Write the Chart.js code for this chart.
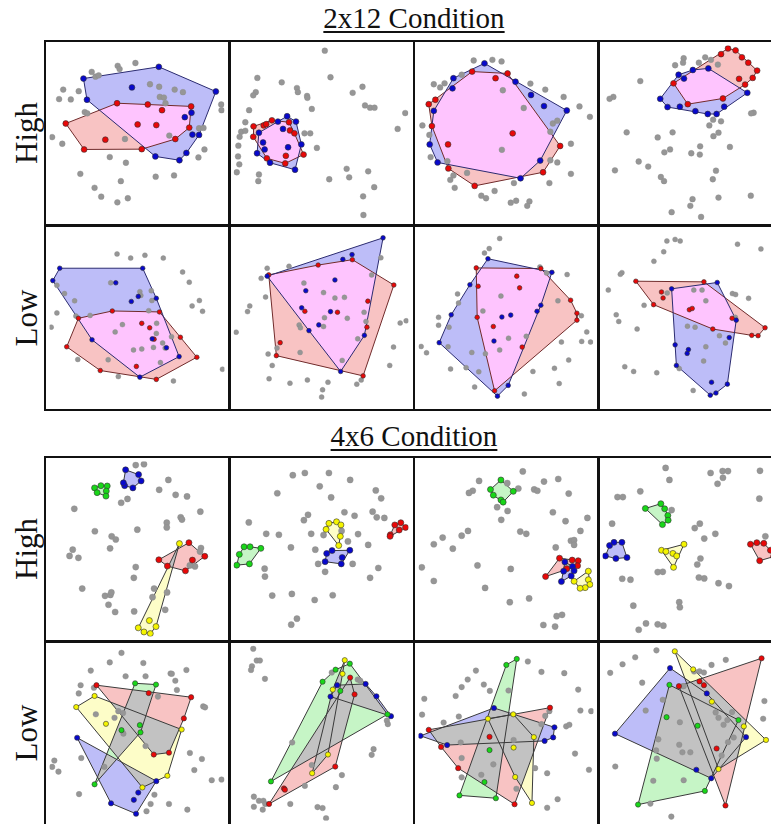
<!DOCTYPE html>
<html>
<head>
<meta charset="utf-8">
<script src="https://cdn.jsdelivr.net/npm/chart.js@4.4.0/dist/chart.umd.min.js"></script>
<style>
  body { margin: 0; background: #fff; width: 771px; height: 824px; overflow: hidden; position: relative; font-family: "Liberation Serif", "DejaVu Serif", serif; }
  .titel { position: absolute; left: 0; width: 828px; text-align: center; font-size: 29px; color: #111; }
  .titel span { text-decoration: underline; text-underline-offset: 3px; text-decoration-thickness: 1.5px; }
  .zeile { position: absolute; font-size: 31px; color: #111; transform: translate(-50%, -50%) rotate(-90deg); white-space: nowrap; }
  .zelle { position: absolute; }
  .rahmen { position: absolute; border: 2px solid #111; box-sizing: border-box; pointer-events: none; }
</style>
</head>
<body>
<div class="titel" style="top:2px"><span>2x12 Condition</span></div>
<div class="titel" style="top:420px"><span>4x6 Condition</span></div>
<div class="zeile" style="left:27px; top:133px">High</div>
<div class="zeile" style="left:27px; top:318px">Low</div>
<div class="zeile" style="left:27px; top:549px">High</div>
<div class="zeile" style="left:27px; top:733px">Low</div>
<script>
// panel coordinates: 0..552 on both axes, y counted from the top

// 2x12 High
const A_gray = [[215,64],[221,74],[271,55],[133,83],[145,98],[155,94],[43,139],[92,144],[30,169],[67,170],[317,122],[346,130],[395,139],[421,147],[348,162],[361,164],[366,182],[542,186],[543,204],[111,210],[119,214],[8,289],[40,310],[238,295],[378,284],[472,261],[486,260],[489,328],[470,353],[190,352],[241,370],[97,405],[225,428],[335,414],[393,410],[142,449],[163,477],[214,495],[247,482]];
const A_blue = [[107,104],[345,67],[525,145],[260,132],[118,171],[427,226],[448,212],[451,281],[472,282],[432,339],[410,362],[334,350]];
const A_red = [[51,246],[213,182],[310,186],[447,192],[355,204],[278,249],[337,251],[441,259],[397,295],[176,297],[109,328],[291,327]];

const B_gray = [[288,16],[75,102],[152,116],[306,100],[200,134],[203,147],[232,159],[233,165],[70,147],[62,157],[247,200],[49,204],[376,149],[407,130],[415,189],[431,196],[445,196],[542,213],[518,263],[37,242],[24,272],[37,269],[19,288],[15,316],[14,350],[18,375],[10,400],[80,407],[78,428],[224,277],[242,277],[263,323],[302,422],[357,389],[365,416],[425,397],[444,447],[409,476],[410,535]];
const B_blue = [[169,223],[197,240],[140,240],[80,275],[93,306],[98,328],[74,340],[115,370],[194,392],[214,312],[156,263],[172,321]];
const B_red = [[63,255],[95,252],[103,248],[121,236],[175,242],[178,268],[192,277],[221,344],[163,372],[105,356],[62,288],[165,348]];

const C_gray = [[174,47],[233,45],[262,50],[136,92],[48,122],[68,132],[82,119],[353,120],[400,139],[458,162],[508,192],[541,225],[266,141],[332,197],[424,246],[438,237],[416,272],[12,252],[34,282],[38,352],[481,310],[263,329],[91,365],[416,362],[438,369],[153,402],[110,410],[100,424],[114,449],[481,405],[413,434],[301,434],[240,459],[198,474],[213,482],[291,496],[308,490],[350,492],[343,506]];
const C_blue = [[208,56],[110,103],[107,135],[306,114],[355,156],[396,191],[468,205],[48,206],[35,312],[60,369],[384,363],[322,419]];
const C_red = [[169,82],[281,88],[243,103],[32,185],[53,171],[42,254],[297,277],[93,312],[94,388],[177,443],[393,400],[447,317]];

const D_gray = [[256,40],[254,54],[229,62],[304,54],[324,37],[342,45],[364,60],[119,112],[34,162],[22,168],[477,212],[469,214],[349,234],[374,239],[337,252],[350,286],[366,275],[402,320],[76,274],[174,290],[221,274],[195,337],[213,328],[280,340],[307,344],[308,318],[114,366],[144,382],[39,394],[184,415],[194,428],[358,395],[348,422],[284,485],[277,506],[366,480],[468,474],[218,526],[311,541]];
const D_blue = [[240,92],[257,104],[285,77],[334,72],[182,168],[205,194],[244,193],[293,207],[332,216],[360,216],[384,193],[457,149]];
const D_red = [[374,27],[396,9],[420,15],[440,37],[460,54],[488,79],[474,102],[450,123],[431,105],[380,167],[269,185],[224,119]];

// 2x12 Low
const E_gray = [[213,77],[256,90],[301,81],[359,90],[420,134],[441,166],[23,176],[47,202],[79,225],[193,168],[285,196],[288,208],[321,193],[323,224],[473,224],[450,241],[483,258],[23,263],[5,308],[83,273],[128,271],[313,256],[230,300],[338,296],[207,323],[337,328],[385,338],[357,358],[365,374],[328,372],[265,380],[291,377],[89,410],[185,411],[350,420],[217,464],[391,478],[546,441]];
const E_blue = [[32,122],[294,122],[10,161],[209,168],[258,227],[280,211],[337,217],[369,373],[324,345],[134,348],[285,466],[409,401]];
const E_red = [[91,280],[198,257],[347,260],[291,296],[316,310],[330,346],[413,340],[465,403],[337,473],[160,445],[54,370],[274,432]];

const F_gray = [[106,122],[87,154],[175,116],[465,89],[436,143],[101,213],[51,241],[44,259],[222,169],[284,199],[320,216],[350,214],[287,278],[359,280],[412,261],[418,290],[207,301],[211,310],[284,306],[392,345],[8,324],[526,295],[545,288],[505,371],[493,429],[137,374],[109,393],[210,388],[122,429],[343,413],[112,471],[178,485],[233,475],[298,482],[281,506],[278,529],[389,488],[403,475]];
const F_blue = [[472,26],[345,94],[374,79],[106,147],[320,159],[228,193],[215,247],[306,259],[269,301],[238,319],[413,334],[338,448]];
const F_red = [[111,143],[267,112],[375,95],[506,175],[424,226],[225,258],[328,261],[421,308],[147,357],[135,398],[409,462]];

const G_gray = [[256,28],[223,60],[208,74],[383,118],[404,137],[469,142],[123,203],[126,232],[260,210],[63,277],[63,302],[96,308],[203,257],[440,225],[514,272],[531,323],[451,355],[515,353],[543,355],[340,337],[284,343],[256,380],[211,392],[168,388],[93,370],[8,369],[25,389],[150,436],[190,449],[101,440],[361,448],[429,438],[474,412],[177,497],[334,519],[444,486]];
const G_blue = [[219,92],[421,135],[162,174],[103,269],[65,357],[386,239],[374,258],[263,276],[291,270],[238,352],[283,492],[249,526]];
const G_red = [[182,121],[386,123],[310,147],[319,184],[188,179],[185,277],[236,306],[480,223],[500,264],[500,286],[327,371],[240,509]];

const H_gray = [[203,36],[229,31],[245,36],[193,70],[162,100],[426,46],[500,61],[61,136],[56,141],[18,191],[131,239],[204,200],[288,191],[314,191],[326,225],[410,202],[420,205],[461,217],[43,269],[51,290],[109,314],[268,305],[292,308],[369,335],[388,358],[326,370],[419,277],[319,415],[70,433],[98,448],[171,452],[242,439],[286,508]];
const H_blue = [[218,187],[362,167],[422,286],[400,341],[394,488],[358,516],[340,523],[344,482],[233,429],[229,364],[271,379],[267,391]];
const H_red = [[105,163],[320,165],[186,197],[191,216],[161,237],[274,253],[283,249],[409,280],[513,310],[491,335],[471,334],[348,314]];

// 4x6 High
const I_gray = [[272,11],[298,8],[375,58],[346,89],[398,105],[434,110],[226,130],[246,118],[78,149],[476,158],[414,176],[418,183],[370,193],[370,208],[277,215],[143,220],[196,236],[209,246],[191,274],[73,278],[63,298],[91,304],[478,273],[475,284],[459,331],[443,328],[272,333],[266,367],[103,401],[175,424],[192,421],[195,413],[186,452],[207,475],[267,473],[330,401],[371,413],[325,428],[365,468]];
const I_green = [[142,83],[162,76],[182,77],[179,93],[178,109],[150,98]];
const I_blue = [[240,26],[281,41],[289,61],[263,83],[237,76],[233,67]];
const I_red = [[440,256],[490,299],[451,311],[429,345],[345,310],[372,330]];
const I_yellow = [[410,259],[280,525],[298,538],[318,543],[336,521],[315,502]];

const J_gray = [[187,43],[225,36],[301,36],[368,58],[272,78],[138,100],[308,113],[449,91],[466,116],[350,160],[382,171],[439,158],[452,176],[476,178],[235,168],[222,185],[48,192],[103,228],[143,231],[245,228],[284,232],[341,219],[361,252],[393,229],[425,263],[181,271],[258,278],[267,323],[289,348],[376,323],[457,336],[431,367],[98,338],[99,363],[122,423],[184,418],[256,437],[313,422],[182,515],[200,496]];
const J_green = [[33,269],[52,269],[86,274],[18,293],[10,327],[50,323]];
const J_blue = [[294,290],[311,281],[367,280],[343,303],[340,323],[289,316]];
const J_red = [[509,200],[528,193],[543,208],[523,216],[495,231],[494,236]];
const J_yellow = [[301,195],[325,190],[339,200],[292,214],[337,236],[332,265]];

const K_gray = [[329,31],[191,61],[171,92],[159,99],[280,68],[315,85],[365,88],[375,92],[396,63],[441,55],[474,101],[248,144],[281,156],[261,184],[424,160],[464,188],[533,178],[321,221],[340,228],[511,219],[481,250],[491,248],[491,263],[433,271],[156,219],[136,234],[76,240],[48,261],[108,275],[186,328],[291,339],[10,334],[48,377],[210,399],[288,444],[349,432],[436,488],[453,484],[394,516],[431,521]];
const K_green = [[260,58],[227,88],[299,94],[236,106],[260,121],[267,128]];
const K_blue = [[462,317],[486,331],[491,345],[482,361],[451,379],[458,346]];
const K_red = [[445,305],[485,311],[504,313],[502,329],[468,338],[401,363]];
const K_yellow = [[536,346],[536,373],[541,388],[526,398],[510,400],[491,378]];

const L_gray = [[199,20],[211,58],[119,94],[47,112],[64,112],[30,196],[218,153],[291,210],[307,196],[356,228],[321,243],[341,36],[379,30],[396,30],[380,51],[363,70],[497,29],[495,117],[309,306],[299,325],[174,349],[190,348],[62,370],[88,373],[304,366],[321,369],[366,384],[399,393],[97,455],[242,444],[244,460],[137,511],[114,531],[174,514],[192,518],[514,236]];
const L_green = [[135,148],[184,133],[196,149],[206,170],[207,185],[189,199]];
const L_blue = [[22,265],[36,255],[61,255],[77,303],[42,306],[9,298]];
const L_red = [[467,261],[487,256],[509,258],[496,313],[530,280],[540,300]];
const L_yellow = [[186,280],[200,284],[222,290],[234,298],[257,261],[224,334]];

// 4x6 Low
const M_gray = [[227,23],[190,53],[296,55],[130,79],[240,97],[303,97],[382,88],[386,89],[432,77],[397,111],[98,125],[92,151],[140,133],[402,140],[342,161],[485,192],[491,195],[146,217],[205,228],[217,207],[232,213],[233,278],[303,317],[443,339],[481,358],[457,393],[100,355],[15,363],[8,383],[28,398],[173,383],[512,425],[543,423],[93,469],[331,471],[319,500],[377,500],[306,523],[435,518]];
const M_red = [[148,125],[313,150],[447,163],[424,230],[377,338],[329,344]];
const M_green = [[270,119],[336,123],[285,251],[287,274],[227,267],[142,438]];
const M_yellow = [[142,159],[84,194],[178,247],[417,265],[372,411],[293,448]];
const M_blue = [[87,291],[337,428],[280,464],[266,487],[194,498],[273,531]];

const N_gray = [[62,10],[73,47],[83,47],[58,65],[55,77],[99,105],[310,85],[392,107],[400,111],[185,306],[442,327],[436,345],[247,377],[225,443],[342,409],[323,447],[64,477],[80,490],[94,490],[100,500],[64,509],[92,518],[179,500],[265,510],[281,513],[292,545],[484,237],[487,248]];
const N_yellow = [[351,46],[344,89],[313,139],[298,344],[248,403]];
const N_green = [[367,57],[322,76],[281,114],[337,143],[486,217],[118,429]];
const N_red = [[368,101],[382,154],[321,382],[159,451],[162,455],[112,500]];
const N_blue = [[327,125],[417,121],[451,160],[306,161],[497,223]];

const O_gray = [[345,50],[181,79],[388,83],[460,87],[155,107],[206,123],[136,131],[225,143],[284,142],[117,159],[18,168],[504,139],[511,205],[545,207],[11,218],[127,224],[400,222],[413,207],[79,243],[388,248],[466,255],[476,250],[133,306],[300,298],[136,355],[236,375],[494,341],[368,387],[406,403],[198,408],[136,416],[309,452],[538,392],[439,485],[406,512]];
const O_green = [[310,42],[277,61],[224,330],[208,431],[129,473],[244,482]];
const O_red = [[415,196],[32,266],[224,288],[71,320],[125,387],[303,501]];
const O_blue = [[238,197],[429,258],[425,290],[398,301],[90,314],[6,285]];
const O_yellow = [[299,217],[219,231],[364,289],[300,322],[305,415],[358,497]];

const P_gray = [[170,15],[103,37],[63,59],[24,86],[125,117],[190,171],[136,205],[289,82],[306,81],[320,85],[344,61],[389,45],[254,128],[256,128],[357,211],[366,228],[382,250],[394,235],[409,210],[511,175],[507,231],[244,242],[176,296],[242,313],[252,337],[277,337],[169,331],[171,357],[396,305],[414,290],[376,347],[40,382],[160,427],[256,425],[151,499],[217,540]];
const P_yellow = [[228,18],[286,75],[345,177],[446,255],[516,298],[366,390]];
const P_red = [[306,113],[320,125],[241,128],[360,325],[502,40],[388,505]];
const P_blue = [[213,71],[329,151],[453,289],[296,392],[343,419],[39,278]];
const P_green = [[211,124],[202,226],[300,253],[429,235],[323,459],[112,502]];

const farben = {
  blue:   { punkt: "#0808cc", flaeche: "#bdbdf8" },
  red:    { punkt: "#e80808", flaeche: "#f8c3c3" },
  green:  { punkt: "#19d619", flaeche: "#c6f5c6" },
  yellow: { punkt: "#f4f400", flaeche: "#fdfdc8" }
};

const spalten = [45, 229, 414, 598];
const zeilen = [41, 225, 457, 641];
const panels = [
  [A_gray, [["blue", A_blue], ["red", A_red]]],
  [B_gray, [["blue", B_blue], ["red", B_red]]],
  [C_gray, [["blue", C_blue], ["red", C_red]]],
  [D_gray, [["blue", D_blue], ["red", D_red]]],
  [E_gray, [["blue", E_blue], ["red", E_red]]],
  [F_gray, [["blue", F_blue], ["red", F_red]]],
  [G_gray, [["blue", G_blue], ["red", G_red]]],
  [H_gray, [["blue", H_blue], ["red", H_red]]],
  [I_gray, [["green", I_green], ["blue", I_blue], ["red", I_red], ["yellow", I_yellow]]],
  [J_gray, [["green", J_green], ["blue", J_blue], ["red", J_red], ["yellow", J_yellow]]],
  [K_gray, [["green", K_green], ["blue", K_blue], ["red", K_red], ["yellow", K_yellow]]],
  [L_gray, [["green", L_green], ["blue", L_blue], ["red", L_red], ["yellow", L_yellow]]],
  [M_gray, [["red", M_red], ["green", M_green], ["yellow", M_yellow], ["blue", M_blue]]],
  [N_gray, [["yellow", N_yellow], ["green", N_green], ["red", N_red], ["blue", N_blue]]],
  [O_gray, [["green", O_green], ["red", O_red], ["blue", O_blue], ["yellow", O_yellow]]],
  [P_gray, [["yellow", P_yellow], ["red", P_red], ["blue", P_blue], ["green", P_green]]]
];

function huelle(punkte) {
  const p = punkte.map(q => ({ x: q[0], y: q[1] })).sort((a, b) => a.x - b.x || a.y - b.y);
  const kreuz = (o, a, b) => (a.x - o.x) * (b.y - o.y) - (a.y - o.y) * (b.x - o.x);
  const unten = [], oben = [];
  for (const q of p) {
    while (unten.length >= 2 && kreuz(unten[unten.length - 2], unten[unten.length - 1], q) <= 0) unten.pop();
    unten.push(q);
  }
  for (let i = p.length - 1; i >= 0; i--) {
    const q = p[i];
    while (oben.length >= 2 && kreuz(oben[oben.length - 2], oben[oben.length - 1], q) <= 0) oben.pop();
    oben.push(q);
  }
  oben.pop(); unten.pop();
  const h = unten.concat(oben);
  h.push(h[0]);
  return h;
}

// fills hulls below the datasets; where two hulls overlap the overlap colour is used
const flaechenPlugin = {
  id: "flaechen",
  beforeDatasetsDraw(chart) {
    const ctx = chart.ctx;
    const a = chart.chartArea;
    const pfade = [];
    chart.data.datasets.forEach((ds, i) => {
      if (!ds.huelle) return;
      const pts = chart.getDatasetMeta(i).data;
      const pfad = new Path2D();
      pts.forEach((el, k) => k ? pfad.lineTo(el.x, el.y) : pfad.moveTo(el.x, el.y));
      pfad.closePath();
      pfade.push([pfad, ds.flaeche]);
    });
    ctx.save();
    ctx.beginPath();
    ctx.rect(a.left, a.top, a.right - a.left, a.bottom - a.top);
    ctx.clip();
    pfade.forEach(([pfad, f]) => { ctx.fillStyle = f; ctx.fill(pfad); });
    const ueber = chart.options.plugins.flaechen.ueberlappung;
    for (let i = 0; i < pfade.length; i++) {
      for (let j = i + 1; j < pfade.length; j++) {
        ctx.save();
        ctx.clip(pfade[i][0]);
        ctx.fillStyle = ueber;
        ctx.fill(pfade[j][0]);
        ctx.restore();
      }
    }
    ctx.restore();
  }
};

panels.forEach(([grau, teams], n) => {
  const zeile = Math.floor(n / 4), spalte = n % 4;
  const vier = zeile >= 2;
  const cell = document.createElement("div");
  cell.className = "zelle";
  cell.style.left = spalten[spalte] + "px";
  cell.style.top = zeilen[zeile] + "px";
  const cv = document.createElement("canvas");
  cv.width = 184; cv.height = 184;
  cell.appendChild(cv);
  document.body.appendChild(cell);
  const rahmen = document.createElement("div");
  rahmen.className = "rahmen";
  rahmen.style.left = (spalten[spalte] - 1) + "px";
  rahmen.style.top = (zeilen[zeile] - 1) + "px";
  rahmen.style.width = "187px";
  rahmen.style.height = "187px";
  document.body.appendChild(rahmen);

  const radiusGrau = [2.9, 2.5, 3.1, 2.8][zeile];
  const radiusTeam = [2.9, 2.3, 3.0, 2.6][zeile];
  const datasets = [];
  teams.forEach(([farbe, pts]) => {
    const linie = vier ? "#3a3a3a" : (farbe === "blue" ? "#2b2b70" : "#702b2b");
    datasets.push({
      data: huelle(pts), huelle: true, flaeche: farben[farbe].flaeche,
      showLine: true, fill: false, borderColor: linie, borderWidth: 1,
      pointRadius: 0, tension: 0, order: 3
    });
  });
  datasets.push({
    data: grau.map(q => ({ x: q[0], y: q[1] })),
    pointRadius: radiusGrau, backgroundColor: "#969696", borderColor: "#8a8a8a", borderWidth: 0.4, order: 2
  });
  teams.forEach(([farbe, pts]) => {
    datasets.push({
      data: pts.map(q => ({ x: q[0], y: q[1] })),
      pointRadius: radiusTeam, backgroundColor: farben[farbe].punkt,
      borderColor: "#333", borderWidth: 0.6, order: 1
    });
  });

  new Chart(cv, {
    type: "scatter",
    data: { datasets },
    options: {
      responsive: false,
      animation: false,
      layout: { padding: 0 },
      scales: {
        x: { type: "linear", min: 0, max: 552, display: false },
        y: { type: "linear", min: 0, max: 552, reverse: true, display: false }
      },
      plugins: {
        legend: { display: false },
        tooltip: { enabled: false },
        flaechen: { ueberlappung: vier ? "#c2c2c2" : "#fec4fe" }
      }
    },
    plugins: [flaechenPlugin]
  });
});
</script>
</body>
</html>
